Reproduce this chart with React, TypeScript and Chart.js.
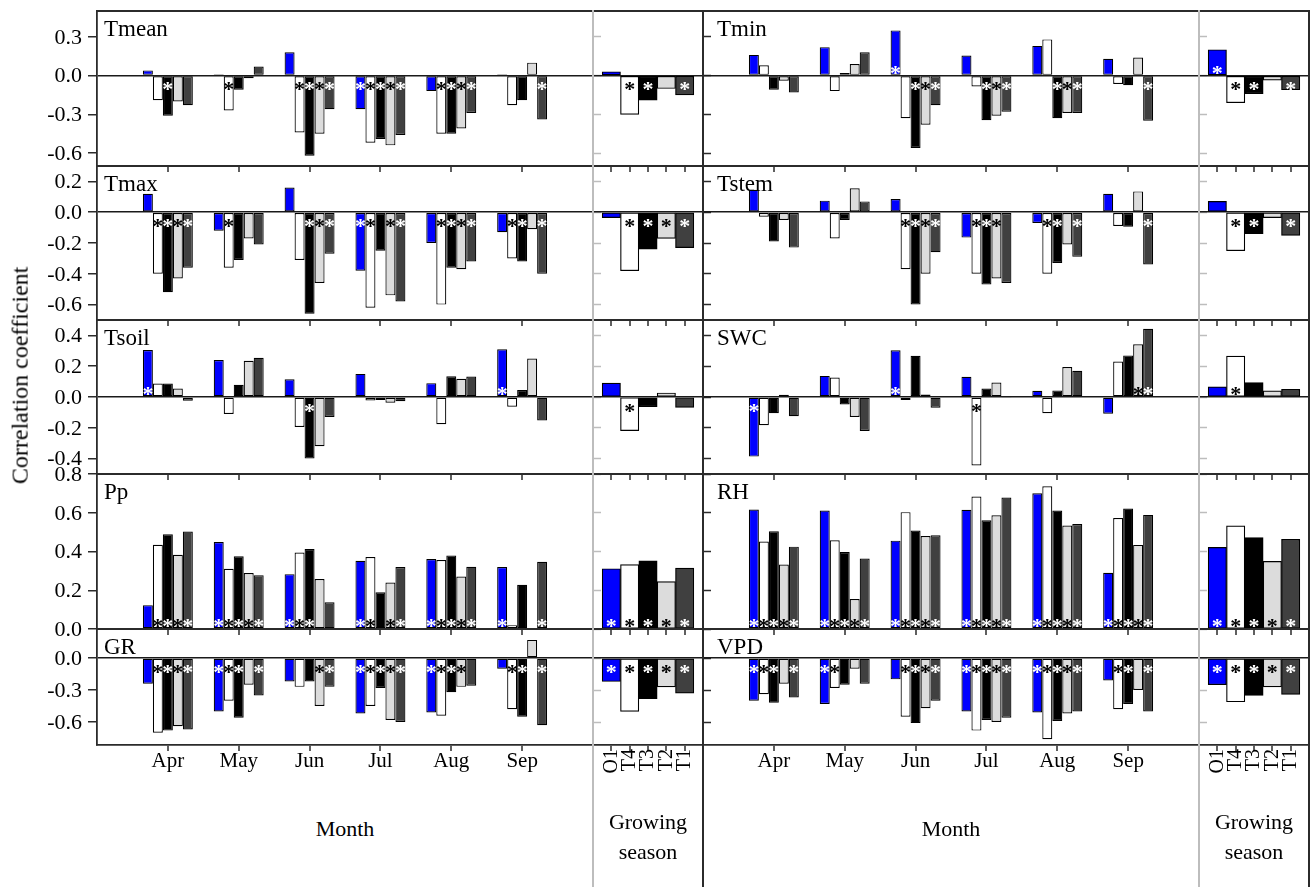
import React, { useEffect, useRef } from 'react';
import { Chart, registerables } from 'chart.js';
Chart.register(...registerables);

// ---------------- DATA ----------------
const MONTHS = ['Apr', 'May', 'Jun', 'Jul', 'Aug', 'Sep'];
const SEASON = ['O1', 'T4', 'T3', 'T2', 'T1'];
const SERIES = ['O1', 'T4', 'T3', 'T2', 'T1'];
const SERIES_COLORS = ['#0000FF', '#FFFFFF', '#000000', '#DCDCDC', '#404040'];
const STAR_COLORS = ['#FFFFFF', '#000000', '#FFFFFF', '#000000', '#FFFFFF'];

// monthly values: one row per series (O1, T4, T3, T2, T1), one column per month
const TMEAN_M = [
  [0.04, 0.01, 0.18, -0.26, -0.12, 0.01],
  [-0.19, -0.27, -0.44, -0.52, -0.45, -0.23],
  [-0.31, -0.11, -0.62, -0.49, -0.45, -0.19],
  [-0.2, -0.02, -0.45, -0.54, -0.41, 0.1],
  [-0.23, 0.07, -0.26, -0.46, -0.29, -0.34],
];
const TMEAN_M_SIG = [
  [0, 0, 0, 1, 0, 0],
  [0, 1, 1, 1, 1, 0],
  [1, 0, 1, 1, 1, 0],
  [0, 0, 1, 1, 1, 0],
  [0, 0, 1, 1, 1, 1],
];
const TMEAN_S = [0.03, -0.3, -0.19, -0.1, -0.15];
const TMEAN_S_SIG = [0, 1, 1, 0, 1];

const TMIN_M = [
  [0.16, 0.22, 0.35, 0.155, 0.23, 0.13],
  [0.08, -0.12, -0.33, -0.085, 0.28, -0.065],
  [-0.11, 0.02, -0.56, -0.345, -0.33, -0.075],
  [-0.04, 0.09, -0.38, -0.31, -0.29, 0.14],
  [-0.13, 0.18, -0.23, -0.28, -0.29, -0.35],
];
const TMIN_M_SIG = [
  [0, 0, 1, 0, 0, 0],
  [0, 0, 0, 0, 0, 0],
  [0, 0, 1, 1, 1, 0],
  [0, 0, 1, 1, 1, 0],
  [0, 0, 1, 1, 1, 1],
];
const TMIN_S = [0.2, -0.21, -0.14, -0.035, -0.11];
const TMIN_S_SIG = [1, 1, 1, 0, 1];

const TMAX_M = [
  [0.12, -0.12, 0.16, -0.38, -0.2, -0.13],
  [-0.4, -0.36, -0.31, -0.62, -0.6, -0.3],
  [-0.52, -0.31, -0.66, -0.25, -0.36, -0.32],
  [-0.43, -0.17, -0.46, -0.54, -0.37, -0.11],
  [-0.36, -0.21, -0.27, -0.58, -0.32, -0.4],
];
const TMAX_M_SIG = [
  [0, 0, 0, 1, 0, 0],
  [1, 1, 0, 1, 1, 1],
  [1, 0, 1, 0, 1, 1],
  [1, 0, 1, 1, 1, 0],
  [1, 0, 1, 1, 1, 1],
];
const TMAX_S = [-0.035, -0.38, -0.24, -0.17, -0.23];
const TMAX_S_SIG = [0, 1, 1, 1, 1];

const TSTEM_M = [
  [0.145, 0.075, 0.085, -0.165, -0.07, 0.12],
  [-0.03, -0.17, -0.37, -0.4, -0.4, -0.09],
  [-0.19, -0.05, -0.6, -0.47, -0.33, -0.095],
  [-0.05, 0.155, -0.4, -0.43, -0.21, 0.135],
  [-0.23, 0.07, -0.26, -0.46, -0.29, -0.34],
];
const TSTEM_M_SIG = [
  [0, 0, 0, 0, 0, 0],
  [0, 0, 1, 1, 1, 0],
  [0, 0, 1, 1, 1, 0],
  [0, 0, 1, 1, 0, 0],
  [0, 0, 1, 0, 1, 1],
];
const TSTEM_S = [0.07, -0.25, -0.14, -0.035, -0.15];
const TSTEM_S_SIG = [0, 1, 1, 0, 1];

const TSOIL_M = [
  [0.305, 0.24, 0.115, 0.15, 0.09, 0.31],
  [0.088, -0.11, -0.195, -0.022, -0.177, -0.063],
  [0.088, 0.08, -0.4, -0.02, 0.135, 0.045],
  [0.055, 0.235, -0.32, -0.037, 0.118, 0.25],
  [-0.024, 0.255, -0.13, -0.028, 0.133, -0.153],
];
const TSOIL_M_SIG = [
  [1, 0, 0, 0, 0, 1],
  [0, 0, 0, 0, 0, 0],
  [0, 0, 1, 0, 0, 0],
  [0, 0, 0, 0, 0, 0],
  [0, 0, 0, 0, 0, 0],
];
const TSOIL_S = [0.09, -0.218, -0.063, 0.026, -0.067];
const TSOIL_S_SIG = [0, 1, 0, 0, 0];

const SWC_M = [
  [-0.387, 0.137, 0.303, 0.131, 0.04, -0.108],
  [-0.183, 0.127, -0.02, -0.445, -0.106, 0.23],
  [-0.106, -0.048, 0.268, 0.055, 0.043, 0.27],
  [0.015, -0.13, 0.017, 0.094, 0.195, 0.342],
  [-0.125, -0.22, -0.07, -0.006, 0.17, 0.443],
];
const SWC_M_SIG = [
  [1, 0, 1, 0, 0, 0],
  [0, 0, 0, 1, 0, 0],
  [0, 0, 0, 0, 0, 0],
  [0, 0, 0, 0, 0, 1],
  [0, 0, 0, 0, 0, 1],
];
const SWC_S = [0.066, 0.266, 0.094, 0.04, 0.05];
const SWC_S_SIG = [0, 1, 0, 0, 0];

const PP_M = [
  [0.123, 0.449, 0.283, 0.352, 0.361, 0.32],
  [0.435, 0.311, 0.395, 0.371, 0.356, 0.02],
  [0.489, 0.375, 0.413, 0.19, 0.38, 0.228],
  [0.383, 0.289, 0.258, 0.24, 0.271, 0],
  [0.503, 0.278, 0.138, 0.32, 0.321, 0.347],
];
const PP_M_SIG = [
  [0, 1, 1, 1, 1, 1],
  [1, 1, 1, 1, 1, 0],
  [1, 1, 1, 0, 1, 0],
  [1, 1, 0, 1, 1, 0],
  [1, 1, 0, 1, 1, 1],
];
const PP_S = [0.311, 0.332, 0.352, 0.245, 0.314];
const PP_S_SIG = [1, 1, 1, 1, 1];

const RH_M = [
  [0.617, 0.611, 0.456, 0.615, 0.701, 0.29],
  [0.452, 0.458, 0.603, 0.684, 0.737, 0.573],
  [0.504, 0.397, 0.508, 0.561, 0.611, 0.622],
  [0.333, 0.155, 0.48, 0.587, 0.534, 0.434],
  [0.425, 0.364, 0.484, 0.679, 0.542, 0.589],
];
const RH_M_SIG = [
  [1, 1, 1, 1, 1, 1],
  [1, 1, 1, 1, 1, 1],
  [1, 1, 1, 1, 1, 1],
  [1, 1, 1, 1, 1, 1],
  [1, 1, 1, 1, 1, 1],
];
const RH_S = [0.421, 0.532, 0.472, 0.349, 0.463];
const RH_S_SIG = [1, 1, 1, 1, 1];

const GR_M = [
  [-0.24, -0.5, -0.22, -0.52, -0.51, -0.1],
  [-0.7, -0.4, -0.27, -0.45, -0.54, -0.48],
  [-0.68, -0.56, -0.22, -0.28, -0.32, -0.55],
  [-0.64, -0.25, -0.45, -0.58, -0.27, 0.17],
  [-0.67, -0.35, -0.27, -0.6, -0.26, -0.63],
];
const GR_M_SIG = [
  [0, 1, 0, 1, 1, 0],
  [1, 1, 0, 1, 1, 1],
  [1, 1, 0, 1, 1, 1],
  [1, 0, 1, 1, 1, 0],
  [1, 1, 1, 1, 0, 1],
];
const GR_S = [-0.22, -0.5, -0.38, -0.27, -0.33];
const GR_S_SIG = [1, 1, 1, 1, 1];

const VPD_M = [
  [-0.4, -0.43, -0.2, -0.5, -0.51, -0.21],
  [-0.34, -0.28, -0.55, -0.68, -0.76, -0.48],
  [-0.42, -0.25, -0.61, -0.58, -0.59, -0.43],
  [-0.24, -0.1, -0.47, -0.6, -0.52, -0.3],
  [-0.37, -0.24, -0.4, -0.56, -0.5, -0.5],
];
const VPD_M_SIG = [
  [1, 1, 0, 1, 1, 0],
  [1, 1, 1, 1, 1, 1],
  [1, 0, 1, 1, 1, 1],
  [0, 0, 1, 1, 1, 0],
  [1, 0, 1, 1, 1, 1],
];
const VPD_S = [-0.25, -0.41, -0.35, -0.27, -0.34];
const VPD_S_SIG = [1, 1, 1, 1, 1];

// y-axis tick values for each row of panels
const Y_TICKS = [
  [-0.6, -0.3, 0, 0.3],
  [-0.6, -0.4, -0.2, 0, 0.2],
  [-0.4, -0.2, 0, 0.2, 0.4],
  [0, 0.2, 0.4, 0.6, 0.8],
  [-0.6, -0.3, 0],
];
const Y_RANGES = [
  [-0.7, 0.5],
  [-0.7, 0.3],
  [-0.5, 0.5],
  [0, 0.8],
  [-0.815, 0.272],
];

type Panel = { name: string; monthly: number[][]; monthlySig: number[][]; season: number[]; seasonSig: number[] };
const PANELS: Panel[] = [
  { name: 'Tmean', monthly: TMEAN_M, monthlySig: TMEAN_M_SIG, season: TMEAN_S, seasonSig: TMEAN_S_SIG },
  { name: 'Tmin', monthly: TMIN_M, monthlySig: TMIN_M_SIG, season: TMIN_S, seasonSig: TMIN_S_SIG },
  { name: 'Tmax', monthly: TMAX_M, monthlySig: TMAX_M_SIG, season: TMAX_S, seasonSig: TMAX_S_SIG },
  { name: 'Tstem', monthly: TSTEM_M, monthlySig: TSTEM_M_SIG, season: TSTEM_S, seasonSig: TSTEM_S_SIG },
  { name: 'Tsoil', monthly: TSOIL_M, monthlySig: TSOIL_M_SIG, season: TSOIL_S, seasonSig: TSOIL_S_SIG },
  { name: 'SWC', monthly: SWC_M, monthlySig: SWC_M_SIG, season: SWC_S, seasonSig: SWC_S_SIG },
  { name: 'Pp', monthly: PP_M, monthlySig: PP_M_SIG, season: PP_S, seasonSig: PP_S_SIG },
  { name: 'RH', monthly: RH_M, monthlySig: RH_M_SIG, season: RH_S, seasonSig: RH_S_SIG },
  { name: 'GR', monthly: GR_M, monthlySig: GR_M_SIG, season: GR_S, seasonSig: GR_S_SIG },
  { name: 'VPD', monthly: VPD_M, monthlySig: VPD_M_SIG, season: VPD_S, seasonSig: VPD_S_SIG },
];

// ---------------- LAYOUT ----------------
const FONT = '"Liberation Serif", "Times New Roman", serif';
const DARK = '#2b2b2b';
const DIVIDER = '#BDBDBD';
const ROW_BOUNDS = [
  [11, 166],
  [166, 320],
  [320, 474],
  [474, 629],
  [629, 745],
];
const COL_BOUNDS = [
  { mL: 97, mR: 593, gR: 703, titleDx: 7 },
  { mL: 703, mR: 1199, gR: 1309, titleDx: 14 },
];

type Spec = {
  key: string;
  kind: 'month' | 'season';
  col: number;
  row: number;
  panel: Panel;
  x0: number; x1: number; y0: number; y1: number;
  padL: number; padR: number; padT: number; padB: number;
};

function buildConfig(s: Spec): any {
  const [yMin, yMax] = Y_RANGES[s.row];
  const ticks = Y_TICKS[s.row];
  const isBottom = s.row === ROW_BOUNDS.length - 1;
  const isMonth = s.kind === 'month';
  const cats = isMonth ? ['', ...MONTHS, ''] : ['', ...SEASON, ''];
  const last = cats.length - 1;

  const datasets = isMonth
    ? SERIES.map((name, i) => ({
        label: name,
        data: [null, ...s.panel.monthly[i], null],
        backgroundColor: SERIES_COLORS[i],
        borderColor: '#000',
        borderWidth: 1.2,
        borderSkipped: false,
        categoryPercentage: 0.705,
        barPercentage: 1,
      }))
    : [
        {
          label: 'Growing season',
          data: [null, ...s.panel.season, null],
          backgroundColor: ['rgba(0,0,0,0)', ...SERIES_COLORS, 'rgba(0,0,0,0)'],
          borderColor: '#000',
          borderWidth: 1.2,
          borderSkipped: false,
          categoryPercentage: 1,
          barPercentage: 1,
        },
      ];

  const leftLabels = isMonth && s.col === 0;
  const rightTicks = isMonth || s.col === 0;
  const setTicks = (scale: any) => {
    scale.ticks = ticks.map((v) => ({ value: v }));
  };

  const framePlugin = {
    id: 'frameTop',
    afterDraw(chart: any) {
      const { ctx, chartArea } = chart;
      ctx.save();
      ctx.strokeStyle = DARK;
      ctx.lineWidth = 1.8;
      ctx.beginPath();
      ctx.moveTo(chartArea.left - 1, chartArea.top);
      ctx.lineTo(chartArea.right + 1, chartArea.top);
      ctx.stroke();
      ctx.restore();
    },
  };

  // y tick labels taken from the y scale's own ticks
  const yLabelPlugin = {
    id: 'yLabels',
    afterDraw(chart: any) {
      if (!leftLabels) return;
      const { ctx } = chart;
      const sc = chart.scales.y;
      ctx.save();
      ctx.fillStyle = '#000';
      ctx.font = `22px ${FONT}`;
      ctx.textAlign = 'right';
      ctx.textBaseline = 'middle';
      sc.ticks.forEach((t: any) => {
        ctx.fillText(Number(t.value).toFixed(1), sc.right - 9 - 6, sc.getPixelForValue(t.value) + 1);
      });
      ctx.restore();
    },
  };

  const titlePlugin = {
    id: 'panelTitle',
    afterDraw(chart: any) {
      if (!isMonth) return;
      const { ctx, chartArea } = chart;
      ctx.save();
      ctx.fillStyle = '#000';
      ctx.font = `23px ${FONT}`;
      ctx.textAlign = 'left';
      ctx.textBaseline = 'alphabetic';
      ctx.fillText(s.panel.name, chartArea.left + COL_BOUNDS[s.col].titleDx, chartArea.top + 25);
      ctx.restore();
    },
  };

  const starPlugin = {
    id: 'stars',
    afterDatasetsDraw(chart: any) {
      const { ctx } = chart;
      const zero = chart.scales.y.getPixelForValue(0);
      const size = 22;
      ctx.save();
      ctx.font = `bold ${size}px ${FONT}`;
      ctx.textAlign = 'center';
      ctx.textBaseline = 'alphabetic';
      chart.data.datasets.forEach((ds: any, di: number) => {
        const meta = chart.getDatasetMeta(di);
        meta.data.forEach((el: any, j: number) => {
          const v = ds.data[j];
          if (v === null || v === undefined || j === 0 || j === last) return;
          const flag = isMonth ? s.panel.monthlySig[di][j - 1] : s.panel.seasonSig[j - 1];
          if (!flag) return;
          const color = isMonth ? STAR_COLORS[di] : STAR_COLORS[j - 1];
          const cy = v >= 0 ? zero - 7 : zero + 9.5;
          ctx.fillStyle = color;
          ctx.fillText('*', el.x, cy + size * 0.5);
        });
      });
      ctx.restore();
    },
  };

  return {
    type: 'bar',
    data: { labels: cats, datasets },
    plugins: [framePlugin, yLabelPlugin, titlePlugin, starPlugin],
    options: {
      animation: false,
      responsive: false,
      devicePixelRatio: 1,
      layout: { autoPadding: false, padding: { top: s.padT, left: 0, right: 0, bottom: 0 } },
      plugins: { legend: { display: false }, tooltip: { enabled: false }, title: { display: false } },
      scales: {
        x: {
          type: 'category',
          offset: false,
          grid: {
            display: true,
            offset: false,
            drawOnChartArea: false,
            drawTicks: true,
            tickLength: 6,
            tickWidth: 1.5,
            lineWidth: 0,
            tickColor: (c: any) => (c.index === 0 || c.index === last ? 'rgba(0,0,0,0)' : DARK),
            color: 'rgba(0,0,0,0)',
          },
          border: { display: true, color: DARK, width: 1.8 },
          ticks: {
            display: isBottom,
            autoSkip: false,
            maxRotation: isMonth ? 0 : 90,
            minRotation: isMonth ? 0 : 90,
            padding: -2,
            color: '#000',
            font: { family: FONT, size: isMonth ? 21 : 20 },
          },
          afterFit: (scale: any) => {
            scale.height = s.padB;
          },
        },
        y: {
          type: 'linear',
          position: 'left',
          min: yMin,
          max: yMax,
          afterBuildTicks: setTicks,
          ticks: { display: false },
          grid: {
            drawOnChartArea: true,
            drawTicks: leftLabels,
            tickLength: 9,
            tickColor: DARK,
            tickWidth: 1.5,
            lineWidth: 1.5,
            color: (c: any) => (c.tick && Math.abs(c.tick.value) < 1e-9 ? '#1a1a1a' : 'rgba(0,0,0,0)'),
          },
          border: { display: isMonth, color: DARK, width: 1.8 },
          afterFit: (scale: any) => {
            scale.width = s.padL;
          },
        },
        yr: {
          type: 'linear',
          position: 'right',
          min: yMin,
          max: yMax,
          afterBuildTicks: setTicks,
          ticks: { display: false },
          grid: {
            drawOnChartArea: false,
            drawTicks: rightTicks,
            tickLength: 8,
            tickWidth: 1.5,
            tickColor: isMonth ? DIVIDER : DARK,
            color: 'rgba(0,0,0,0)',
          },
          border: { display: !isMonth, color: DARK, width: 1.8 },
          afterFit: (scale: any) => {
            scale.width = s.padR;
          },
        },
      },
    },
  };
}

function Piece({ spec }: { spec: Spec }) {
  const ref = useRef<HTMLCanvasElement>(null);
  const W = spec.x1 - spec.x0 + spec.padL + spec.padR;
  const H = spec.y1 - spec.y0 + spec.padT + spec.padB;
  useEffect(() => {
    const chart = new Chart(ref.current as HTMLCanvasElement, buildConfig(spec));
    return () => chart.destroy();
  }, []);
  return (
    <canvas
      ref={ref}
      width={W}
      height={H}
      style={{ position: 'absolute', left: spec.x0 - spec.padL, top: spec.y0 - spec.padT, width: W, height: H }}
    />
  );
}

function Label({ text, cx, cy, size = 22, rotate = false }: { text: string; cx: number; cy: number; size?: number; rotate?: boolean }) {
  const w = 320;
  return (
    <div
      style={{
        position: 'absolute',
        left: cx - w / 2,
        top: cy - size * 0.6,
        width: w,
        height: size * 1.2,
        lineHeight: `${size * 1.2}px`,
        textAlign: 'center',
        fontFamily: FONT,
        fontSize: size,
        color: '#000',
        whiteSpace: 'nowrap',
        transform: rotate ? 'rotate(-90deg)' : undefined,
        transformOrigin: 'center center',
      }}
    >
      {text}
    </div>
  );
}

function VLine({ x, color, top = 10, bottom = 887 }: { x: number; color: string; top?: number; bottom?: number }) {
  return <div style={{ position: 'absolute', left: x - 1, top, width: 2, height: bottom - top, background: color }} />;
}

export default function App() {
  const specs: Spec[] = [];
  ROW_BOUNDS.forEach(([top, bottom], r) => {
    COL_BOUNDS.forEach((cb, c) => {
      const panel = PANELS[r * 2 + c];
      const isBottom = r === ROW_BOUNDS.length - 1;
      specs.push({
        key: `m${r}${c}`, kind: 'month', col: c, row: r, panel,
        x0: cb.mL, x1: cb.mR, y0: top, y1: bottom,
        padL: c === 0 ? 97 : 20, padR: 30, padT: 16, padB: isBottom ? 40 : 16,
      });
      specs.push({
        key: `s${r}${c}`, kind: 'season', col: c, row: r, panel,
        x0: cb.mR, x1: cb.gR, y0: top, y1: bottom,
        padL: 20, padR: 30, padT: 16, padB: isBottom ? 48 : 16,
      });
    });
  });
  return (
    <div style={{ position: 'absolute', left: 0, top: 0, width: 1312, height: 887, background: '#fff', overflow: 'hidden' }}>
      {specs.map((s) => (
        <Piece key={s.key} spec={s} />
      ))}
      <VLine x={593} color={DIVIDER} />
      <VLine x={1199} color={DIVIDER} />
      <VLine x={703} color={DARK} />
      <VLine x={1309} color={DARK} />
      <Label text="Correlation coefficient" cx={20} cy={375} size={24} rotate />
      <Label text="Month" cx={345} cy={829} />
      <Label text="Month" cx={951} cy={829} />
      <Label text="Growing" cx={648} cy={822} />
      <Label text="season" cx={648} cy={852} />
      <Label text="Growing" cx={1254} cy={822} />
      <Label text="season" cx={1254} cy={852} />
    </div>
  );
}
